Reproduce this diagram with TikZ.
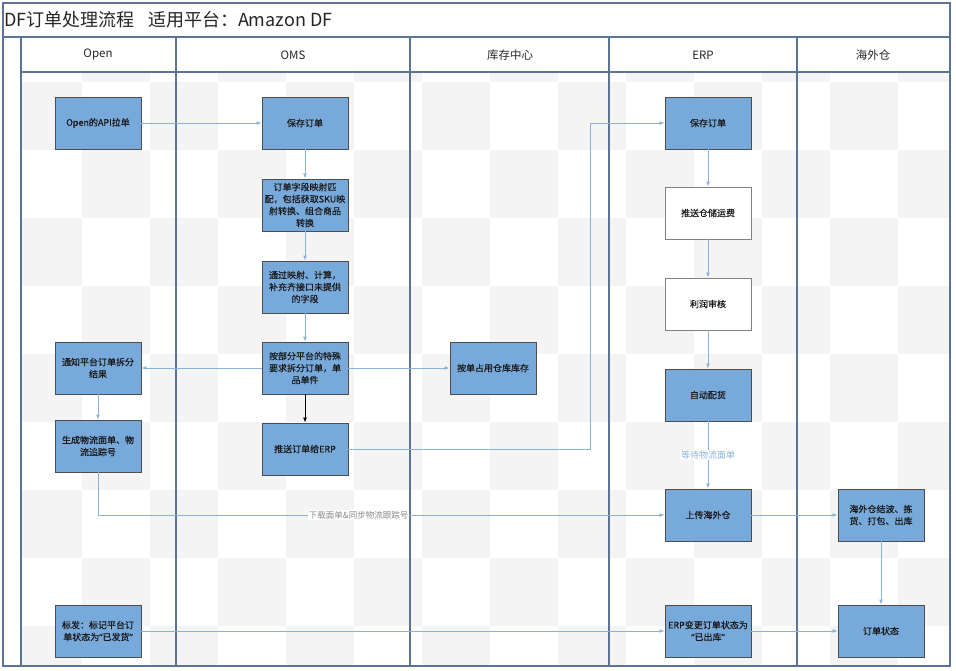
\documentclass[tikz,border=0pt]{standalone}
\usepackage{fontspec}
\setmainfont{Noto Sans CJK SC}
\newfontfamily\nodefont[FakeBold=0.35]{Noto Sans CJK SC}
\newfontfamily\latq[FakeBold=0.35]{Noto Sans}
\usetikzlibrary{arrows.meta}
\definecolor{lanec}{HTML}{5B7394}
\definecolor{nodefill}{HTML}{78A9DB}
\definecolor{nodeedge}{HTML}{4D4D4D}
\definecolor{connc}{HTML}{8CB2DA}
\definecolor{chk}{HTML}{F4F4F4}
\definecolor{lblgray}{HTML}{8A8A8A}
\begin{document}
\begin{tikzpicture}[x=1pt,y=-1pt,
  box/.style={draw=nodeedge, line width=0.9pt, fill=nodefill, minimum width=86pt, minimum height=52pt, inner sep=2pt, align=center, font=\nodefont\fontsize{9}{12}\selectfont, text=black!90},
  wbox/.style={box, fill=white, draw=gray},
  conn/.style={draw=connc, line width=0.9pt, -{Latex[length=5pt,width=4pt]}},
  connk/.style={draw=black, line width=0.9pt, -{Latex[length=5pt,width=4pt]}},
  laneline/.style={draw=lanec, line width=1.2pt},
  hdr/.style={font=\fontsize{11.5}{14}\selectfont, text=black!85},
  lblg/.style={font=\fontsize{8.5}{10}\selectfont, text=lblgray, fill=white, inner sep=1pt},
  lblb/.style={font=\fontsize{9}{10}\selectfont, text=connc, fill=white, inner sep=1pt}]
\useasboundingbox (0,0) rectangle (956,670);
\fill[white] (0,0) rectangle (956,670);
% checker background
\begin{scope}
\clip (21,72) rectangle (950,666);
\foreach \i in {0,...,13}{
  \foreach \j in {-1,...,8}{
    \pgfmathtruncatemacro\cpar{mod(\i+\j+20,2)}
    \ifnum\cpar=0
      \fill[chk] ({14+68*\i},{82+68*\j}) rectangle ({82+68*\i},{150+68*\j});
    \fi
  }
}
\end{scope}
% frame
\draw[laneline] (3,3) rectangle (950,666);
\draw[laneline] (3,37) -- (950,37);
\draw[laneline] (21,72) -- (950,72);
\draw[laneline] (21,37) -- (21,666);
\draw[laneline] (176,37) -- (176,666);
\draw[laneline] (410,37) -- (410,666);
\draw[laneline] (609,37) -- (609,666);
\draw[laneline] (797,37) -- (797,666);
\node[anchor=west, font=\fontsize{18}{20}\selectfont, text=black!85, inner sep=0pt] (title) at (4,20) {DF订单处理流程\hspace{0.75em}适用平台：Amazon DF};
\node[hdr] (h1) at (98,55) {Open};
\node[hdr] (h2) at (293,55) {OMS};
\node[hdr] (h3) at (510,55) {库存中心};
\node[hdr] (h4) at (703,55) {ERP};
\node[hdr] (h5) at (873,55) {海外仓};
% nodes
\node[box] (api) at (98,123) {Open的API拉单};
\node[box] (osave) at (305,123) {保存订单};
\node[box] (map) at (305,205) {订单字段映射匹\\配，包括获取SKU映\\射转换、组合商品\\转换};
\node[box] (fillf) at (305,287) {通过映射、计算，\\补充齐接口未提供\\的字段};
\node[box] (split) at (305,368) {按部分平台的特殊\\要求拆分订单，单\\品单件};
\node[box] (push) at (305,449) {推送订单给ERP};
\node[box] (stock) at (493,368) {按单占用仓库库存};
\node[box] (notify) at (98,368) {通知平台订单拆分\\结果};
\node[box] (logi) at (98,446) {生成物流面单、物\\流追踪号};
\node[box] (biaofa) at (98,631) {标发：标记平台订\\单状态为{\latq “}已发货{\latq ”}};
\node[box] (esave) at (708,123) {保存订单};
\node[wbox] (freight) at (708,213) {推送仓储运费};
\node[wbox] (profit) at (708,304) {利润审核};
\node[box] (alloc) at (708,395) {自动配货};
\node[box] (upload) at (708,515) {上传海外仓};
\node[box] (erpchg) at (708,631) {ERP变更订单状态为\\{\latq “}已出库{\latq ”}};
\node[box] (wave) at (881,515) {海外仓结波、拣\\货、打包、出库};
\node[box] (status) at (881,631) {订单状态};
\coordinate (j1) at (590,0);
% connectors
\draw[conn] (api) -- (osave);
\draw[conn] (osave) -- (map);
\draw[conn] (map) -- (fillf);
\draw[conn] (fillf) -- (split);
\draw[conn] (split) -- (notify);
\draw[conn] (split) -- (stock);
\draw[connk] (split) -- (push);
\draw[conn] (push.east) -- (push.east -| j1) |- (esave.west);
\draw[conn] (notify) -- (logi);
\draw[conn] (logi.south) |- node[lblg, pos=0.73] {下载面单\&同步物流跟踪号} (upload.west);
\draw[conn] (esave) -- (freight);
\draw[conn] (freight) -- (profit);
\draw[conn] (profit) -- (alloc);
\draw[conn] (alloc) -- node[lblb] {等待物流面单} (upload);
\draw[conn] (upload) -- (wave);
\draw[conn] (wave) -- (status);
\draw[conn] (biaofa) -- (erpchg);
\draw[conn] (erpchg) -- (status);
\end{tikzpicture}
\end{document}
